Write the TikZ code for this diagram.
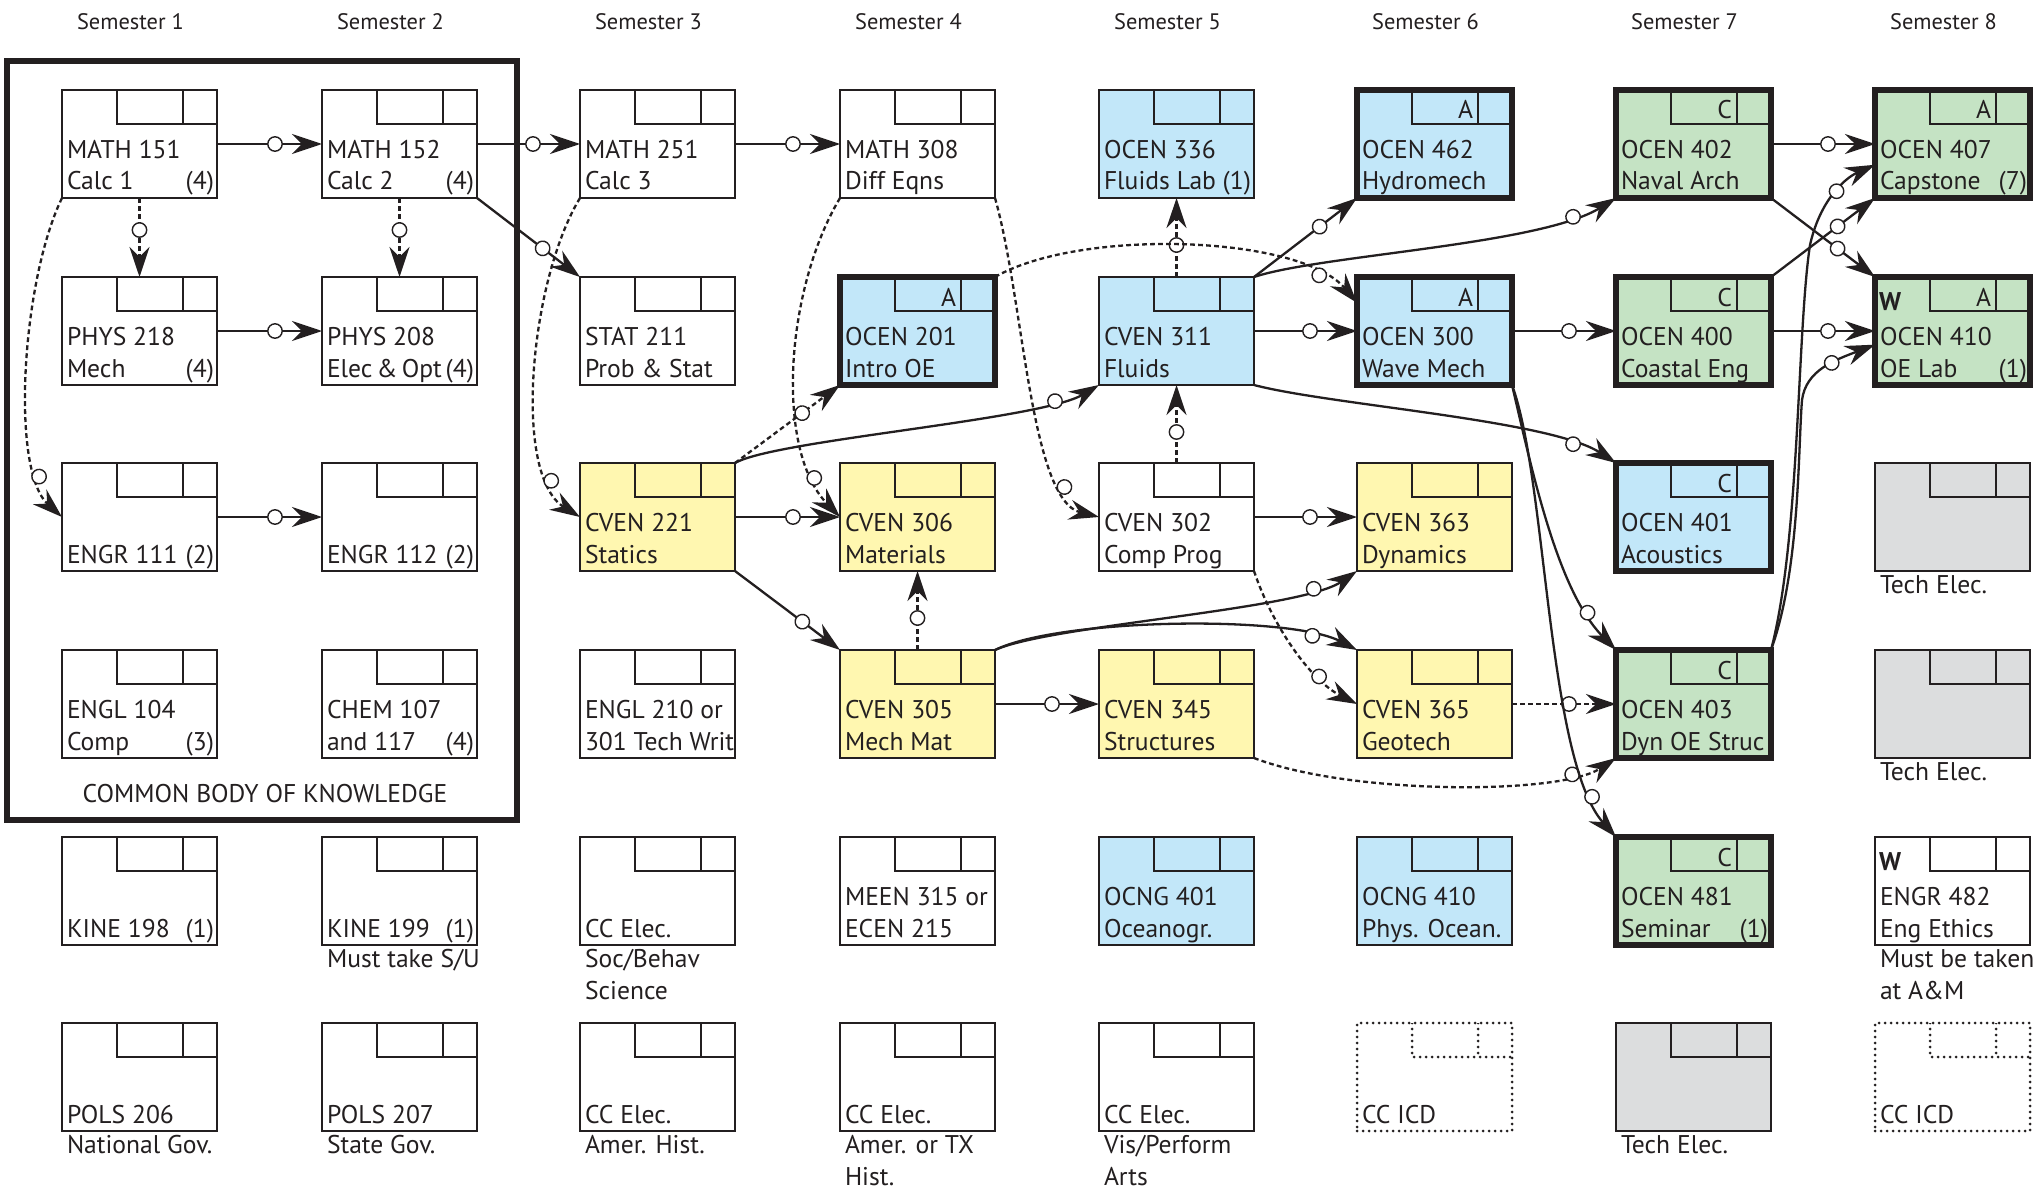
\documentclass[tikz,border=0pt]{standalone}
\usepackage{fontspec}
\setmainfont{PT Sans}
\usetikzlibrary{arrows.meta,decorations.markings}
\definecolor{ink}{HTML}{231F20}
\definecolor{cblue}{HTML}{C2E7F9}
\definecolor{cyellow}{HTML}{FFF7B0}
\definecolor{cgreen}{HTML}{C5E3C4}
\definecolor{cgray}{HTML}{DCDDDE}
\tikzset{
  hdrline/.style={draw=ink, line width=1.3pt},
  box/.style={rectangle, draw=ink, fill=white, line width=1.3pt,
    minimum width=77.5pt, minimum height=54pt, inner sep=0pt, outer sep=0pt, anchor=north west,
    path picture={
      \draw[hdrline] ([xshift=27.5pt]path picture bounding box.north west) |- ([yshift=-17pt]path picture bounding box.north east);
      \draw[hdrline] ([xshift=-17pt]path picture bounding box.north east) -- ++(0,-17pt);}},
  bold/.style={line width=2.6pt},
  blue/.style={fill=cblue}, yellow/.style={fill=cyellow}, green/.style={fill=cgreen}, gray/.style={fill=cgray},
  dotbox/.style={fill=none, line width=1.5pt, line cap=round, dash pattern=on 0pt off 3pt,
    hdrline/.style={draw=ink, line width=1.5pt, line cap=round, dash pattern=on 0pt off 3pt}},
  txt/.style={inner sep=0pt, outer sep=0pt, text=ink, font=\fontsize{12.8pt}{16pt}\selectfont},
  semlab/.style={inner sep=0pt, outer sep=0pt, text=ink, anchor=base, font=\fontsize{11.2pt}{13pt}\selectfont},
  conn/.style={draw=ink, line width=1.15pt, -{Stealth[length=15pt,width=10pt,inset=5pt]},
    postaction={decorate, decoration={markings, mark=at position -23.5pt with {\draw[solid, draw=ink, fill=white, line width=0.7pt] (0,0) circle (3.6pt);}}}},
  dconn/.style={conn, dash pattern=on 2.4pt off 1.6pt},
}
% name, x, y, style, line1, line2, credits, header letter
\newcommand{\crs}[8]{%
  \node[box,#4] (#1) at (#2,#3) {};
  \node[txt,anchor=base west] (#1a) at ([shift={(5,68)}]#1.north west) {#5};
  \node[txt,anchor=base west] (#1b) at ([shift={(5,100)}]#1.north west) {#6};
  \node[txt,anchor=base east] (#1c) at ([shift={(-3,100)}]#1.north east) {#7};
  \node[txt,anchor=base east] (#1d) at ([shift={(-39,29)}]#1.north east) {#8};
}
\newcommand{\subl}[3]{% node, line number, text
  \node[txt,anchor=base west] (#1s#2) at ([shift={(5,{22+32*(#2-1)})}]#1.south west) {#3};
}
\newcommand{\wmark}[1]{%
  \node[txt,anchor=base west,font=\bfseries\fontsize{12.8pt}{16pt}\selectfont] (#1w) at ([shift={(4,33)}]#1.north west) {W};
}
\begin{document}
\begin{tikzpicture}[x=0.5pt,y=-0.5pt]
\useasboundingbox (0,0) rectangle (2035,1188);
\fill[white] (0,0) rectangle (2035,1188);

% semester labels
\foreach \i/\xx in {1/62,2/322,3/580,4/840,5/1099,6/1357,7/1616,8/1875}
  \node[semlab] (sem\i) at (\xx+68.5,30) {Semester \i};

% common body of knowledge frame
\node[draw=ink, line width=2.6pt, minimum width=255pt, minimum height=379.5pt, anchor=north west, inner sep=0pt, outer sep=0pt] (cbk) at (7,61) {};
\node[txt,anchor=base] (cbklab) at (265,802) {COMMON BODY OF KNOWLEDGE};

% column 1
\crs{m151}{62}{90}{}{MATH 151}{Calc 1}{(4)}{}
\crs{p218}{62}{277}{}{PHYS 218}{Mech}{(4)}{}
\crs{e111}{62}{463}{}{}{ENGR 111}{(2)}{}
\crs{e104}{62}{650}{}{ENGL 104}{Comp}{(3)}{}
\crs{k198}{62}{837}{}{}{KINE 198}{(1)}{}
\crs{p206}{62}{1023}{}{}{POLS 206}{}{}
\subl{p206}{1}{National Gov.}
% column 2
\crs{m152}{322}{90}{}{MATH 152}{Calc 2}{(4)}{}
\crs{p208}{322}{277}{}{PHYS 208}{Elec\,\&\,Opt}{(4)}{}
\crs{e112}{322}{463}{}{}{ENGR 112}{(2)}{}
\crs{c107}{322}{650}{}{CHEM 107}{and 117}{(4)}{}
\crs{k199}{322}{837}{}{}{KINE 199}{(1)}{}
\subl{k199}{1}{Must take S/U}
\crs{p207}{322}{1023}{}{}{POLS 207}{}{}
\subl{p207}{1}{State Gov.}
% column 3
\crs{m251}{580}{90}{}{MATH 251}{Calc 3}{}{}
\crs{s211}{580}{277}{}{STAT 211}{Prob \& Stat}{}{}
\crs{c221}{580}{463}{yellow}{CVEN 221}{Statics}{}{}
\crs{e210}{580}{650}{}{ENGL 210 or}{301 Tech Writ}{}{}
\crs{cca}{580}{837}{}{}{CC Elec.}{}{}
\subl{cca}{1}{Soc/Behav}
\subl{cca}{2}{Science}
\crs{ccb}{580}{1023}{}{}{CC Elec.}{}{}
\subl{ccb}{1}{Amer. Hist.}
% column 4
\crs{m308}{840}{90}{}{MATH 308}{Diff Eqns}{}{}
\crs{o201}{840}{277}{blue,bold}{OCEN 201}{Intro OE}{}{A}
\crs{c306}{840}{463}{yellow}{CVEN 306}{Materials}{}{}
\crs{c305}{840}{650}{yellow}{CVEN 305}{Mech Mat}{}{}
\crs{me315}{840}{837}{}{MEEN 315 or}{ECEN 215}{}{}
\crs{ccc}{840}{1023}{}{}{CC Elec.}{}{}
\subl{ccc}{1}{Amer. or TX}
\subl{ccc}{2}{Hist.}
% column 5
\crs{o336}{1099}{90}{blue}{OCEN 336}{Fluids Lab}{(1)}{}
\crs{c311}{1099}{277}{blue}{CVEN 311}{Fluids}{}{}
\crs{c302}{1099}{463}{}{CVEN 302}{Comp Prog}{}{}
\crs{c345}{1099}{650}{yellow}{CVEN 345}{Structures}{}{}
\crs{g401}{1099}{837}{blue}{OCNG 401}{Oceanogr.}{}{}
\crs{ccd}{1099}{1023}{}{}{CC Elec.}{}{}
\subl{ccd}{1}{Vis/Perform}
\subl{ccd}{2}{Arts}
% column 6
\crs{o462}{1357}{90}{blue,bold}{OCEN 462}{Hydromech}{}{A}
\crs{o300}{1357}{277}{blue,bold}{OCEN 300}{Wave Mech}{}{A}
\crs{c363}{1357}{463}{yellow}{CVEN 363}{Dynamics}{}{}
\crs{c365}{1357}{650}{yellow}{CVEN 365}{Geotech}{}{}
\crs{g410}{1357}{837}{blue}{OCNG 410}{Phys. Ocean.}{}{}
\crs{icda}{1357}{1023}{dotbox}{}{CC ICD}{}{}
% column 7
\crs{o402}{1616}{90}{green,bold}{OCEN 402}{Naval Arch}{}{C}
\crs{o400}{1616}{277}{green,bold}{OCEN 400}{Coastal Eng}{}{C}
\crs{o401}{1616}{463}{blue,bold}{OCEN 401}{Acoustics}{}{C}
\crs{o403}{1616}{650}{green,bold}{OCEN 403}{Dyn OE Struc}{}{C}
\crs{o481}{1616}{837}{green,bold}{OCEN 481}{Seminar}{(1)}{C}
\crs{tea}{1616}{1023}{gray}{}{}{}{}
\subl{tea}{1}{Tech Elec.}
% column 8
\crs{o407}{1875}{90}{green,bold}{OCEN 407}{Capstone}{(7)}{A}
\crs{o410}{1875}{277}{green,bold}{OCEN 410}{OE Lab}{(1)}{A}
\wmark{o410}
\crs{teb}{1875}{463}{gray}{}{}{}{}
\subl{teb}{1}{Tech Elec.}
\crs{tec}{1875}{650}{gray}{}{}{}{}
\subl{tec}{1}{Tech Elec.}
\crs{e482}{1875}{837}{}{ENGR 482}{Eng Ethics}{}{}
\wmark{e482}
\subl{e482}{1}{Must be taken}
\subl{e482}{2}{at A\&M}
\crs{icdb}{1875}{1023}{dotbox}{}{CC ICD}{}{}

% connectors
\draw[conn] (m151.east) -- (m152.west);
\draw[dconn] (m151.south) -- (p218.north);
\draw[dconn] (m152.south) -- (p208.north);
\draw[conn] (p218.east) -- (p208.west);
\draw[dconn] (m151.south west) .. controls (22,280) and (10,470) .. (e111.west);
\draw[conn] (e111.east) -- (e112.west);
\draw[conn] (m152.east) -- (m251.west);
\draw[conn] (m152.south east) -- (s211.north west);
\draw[conn] (m251.east) -- (m308.west);
\draw[dconn] (m251.south west) .. controls (530,280) and (512,475) .. (c221.west);
\draw[dconn] (m308.south west) .. controls (785,290) and (775,450) .. (c306.west);
\draw[dconn] (m308.south east) .. controls (1024,300) and (1030,500) .. (c302.west);
\draw[dconn] (c221.north east) -- (o201.south west);
\draw[conn] (c221.north east) .. controls (775,440) and (1040,420) .. (c311.south west);
\draw[conn] (c221.east) -- (c306.west);
\draw[conn] (c221.south east) -- (c305.north west);
\draw[dconn] (c305.north) -- (c306.south);
\draw[conn] (c305.north east) .. controls (1050,625) and (1300,610) .. (c363.south west);
\draw[conn] (c305.north east) .. controls (1060,618) and (1290,615) .. (c365.north west);
\draw[conn] (c305.east) -- (c345.west);
\draw[dconn] (c302.north) -- (c311.south);
\draw[conn] (c302.east) -- (c363.west);
\draw[dconn] (c302.south east) .. controls (1272,625) and (1310,680) .. (c365.west);
\draw[dconn] (c345.south east) .. controls (1350,795) and (1560,795) .. (o403.south west);
\draw[dconn] (c365.east) -- (o403.west);
\draw[dconn] (c311.north) -- (o336.south);
\draw[conn] (c311.north east) -- (o462.south west);
\draw[conn] (c311.east) -- (o300.west);
\draw[dconn] (o201.north east) .. controls (1080,228) and (1300,235) .. (o300.160);
\draw[conn] (c311.north east) .. controls (1320,255) and (1540,245) .. (o402.south west);
\draw[conn] (c311.south east) .. controls (1330,405) and (1550,420) .. (o401.north west);
\draw[conn] (o300.south east) .. controls (1532,470) and (1557,590) .. (o403.north west);
\draw[conn] (o300.south east) .. controls (1547,480) and (1547,760) .. (o481.north west);
\draw[conn] (o300.east) -- (o400.west);
\draw[conn] (o402.east) -- (o407.west);
\draw[conn] (o402.south east) -- (o410.north west);
\draw[conn] (o400.north east) -- (o407.south west);
\draw[conn] (o400.east) -- (o410.west);
\draw[conn] (o403.north east) .. controls (1800,540) and (1797,330) .. (1810,245) .. controls (1820,200) and (1845,178) .. (o407.195);
\draw[conn] (o403.north east) .. controls (1800,570) and (1798,450) .. (1802,400) .. controls (1806,370) and (1835,360) .. (o410.190);
\end{tikzpicture}
\end{document}
